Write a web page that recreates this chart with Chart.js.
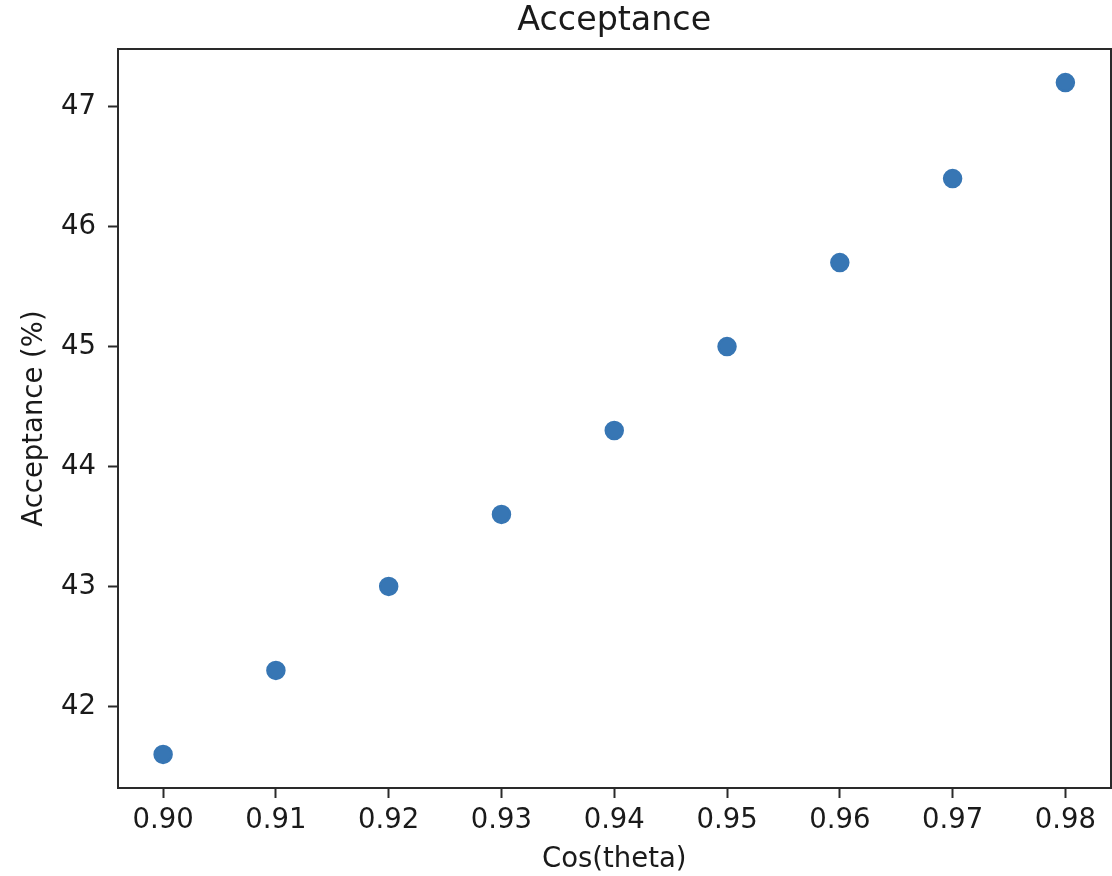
<!DOCTYPE html>
<html>
<head>
<meta charset="utf-8">
<script src="https://cdn.jsdelivr.net/npm/chart.js@4/dist/chart.umd.min.js"></script>
<style>
  html, body { margin: 0; padding: 0; background: #ffffff; }
  #wrap { width: 1112px; height: 876px; }
</style>
</head>
<body>
<div id="wrap"><canvas id="c" width="1112" height="876"></canvas></div>
<script>
// ---- data ----
const cosTheta = [0.90, 0.91, 0.92, 0.93, 0.94, 0.95, 0.96, 0.97, 0.98];
const acceptance = [41.6, 42.3, 43.0, 43.6, 44.3, 45.0, 45.7, 46.4, 47.2];
const xTicks = [0.90, 0.91, 0.92, 0.93, 0.94, 0.95, 0.96, 0.97, 0.98];
const yTicks = [42, 43, 44, 45, 46, 47];
const titleText = 'Acceptance';
const xTitle = 'Cos(theta)';
const yTitle = 'Acceptance (%)';

const points = cosTheta.map((x, i) => ({ x: x, y: acceptance[i] }));

const FONT = "'DejaVu Sans', 'Liberation Sans', sans-serif";
const TEXT = '#1a1a1a';
const SPINE = '#2a2a2a';
const X_MIN = 0.896, X_MAX = 0.984;
const Y_MIN = 41.32, Y_MAX = 47.48;

new Chart(document.getElementById('c'), {
  type: 'scatter',
  data: {
    datasets: [{
      data: points,
      backgroundColor: '#3776b4',
      borderColor: '#3776b4',
      borderWidth: 2.5,
      pointRadius: 8.5,
      pointHoverRadius: 8.5
    }]
  },
  options: {
    responsive: false,
    animation: false,
    layout: { padding: 0, autoPadding: false },
    plugins: {
      legend: { display: false },
      tooltip: { enabled: false },
      title: { display: false }
    },
    scales: {
      x: {
        type: 'linear',
        position: 'bottom',
        min: X_MIN, max: X_MAX,
        afterBuildTicks: (axis) => { axis.ticks = xTicks.map(v => ({ value: v })); },
        afterFit: (axis) => { axis.height = 88; axis.paddingLeft = 0; axis.paddingRight = 0; },
        ticks: {
          color: TEXT,
          padding: 6,
          font: { family: FONT, size: 27.5, lineHeight: 1.2 },
          callback: (v) => Number(v).toFixed(2),
          maxRotation: 0, autoSkip: false
        },
        grid: {
          display: true, drawOnChartArea: false, drawTicks: true,
          tickLength: 10, tickWidth: 2, tickColor: SPINE
        },
        border: { display: true, color: SPINE, width: 2 },
        title: {
          display: true, text: xTitle, color: TEXT,
          font: { family: FONT, size: 27.5, lineHeight: 1.2 },
          padding: { top: 0, bottom: 0 }
        }
      },
      y: {
        type: 'linear',
        position: 'left',
        min: Y_MIN, max: Y_MAX,
        afterBuildTicks: (axis) => { axis.ticks = yTicks.map(v => ({ value: v })); },
        afterFit: (axis) => { axis.width = 118; axis.paddingTop = 0; axis.paddingBottom = 0; },
        ticks: {
          color: TEXT,
          padding: 12,
          font: { family: FONT, size: 27.5, lineHeight: 1.2 },
          callback: (v) => String(v)
        },
        grid: {
          display: true, drawOnChartArea: false, drawTicks: true,
          tickLength: 10, tickWidth: 2, tickColor: SPINE
        },
        border: { display: true, color: SPINE, width: 2 },
        title: {
          display: true, text: yTitle, color: TEXT,
          font: { family: FONT, size: 27.5, lineHeight: 1.2 },
          padding: { top: 18.5, bottom: 0 }
        }
      },
      xTop: {
        type: 'linear',
        position: 'top',
        min: X_MIN, max: X_MAX,
        afterFit: (axis) => { axis.height = 49; axis.paddingLeft = 0; axis.paddingRight = 0; },
        ticks: { display: false },
        grid: { display: false, drawTicks: false },
        border: { display: true, color: SPINE, width: 2 },
        title: {
          display: true, text: titleText, color: TEXT,
          font: { family: FONT, size: 33.3, lineHeight: 1.2 },
          padding: { top: 1, bottom: 0 }
        }
      },
      yRight: {
        type: 'linear',
        position: 'right',
        min: Y_MIN, max: Y_MAX,
        afterFit: (axis) => { axis.width = 1.5; axis.paddingTop = 0; axis.paddingBottom = 0; },
        ticks: { display: false },
        grid: { display: false, drawTicks: false },
        border: { display: true, color: SPINE, width: 2 }
      }
    }
  }
});
</script>
</body>
</html>
